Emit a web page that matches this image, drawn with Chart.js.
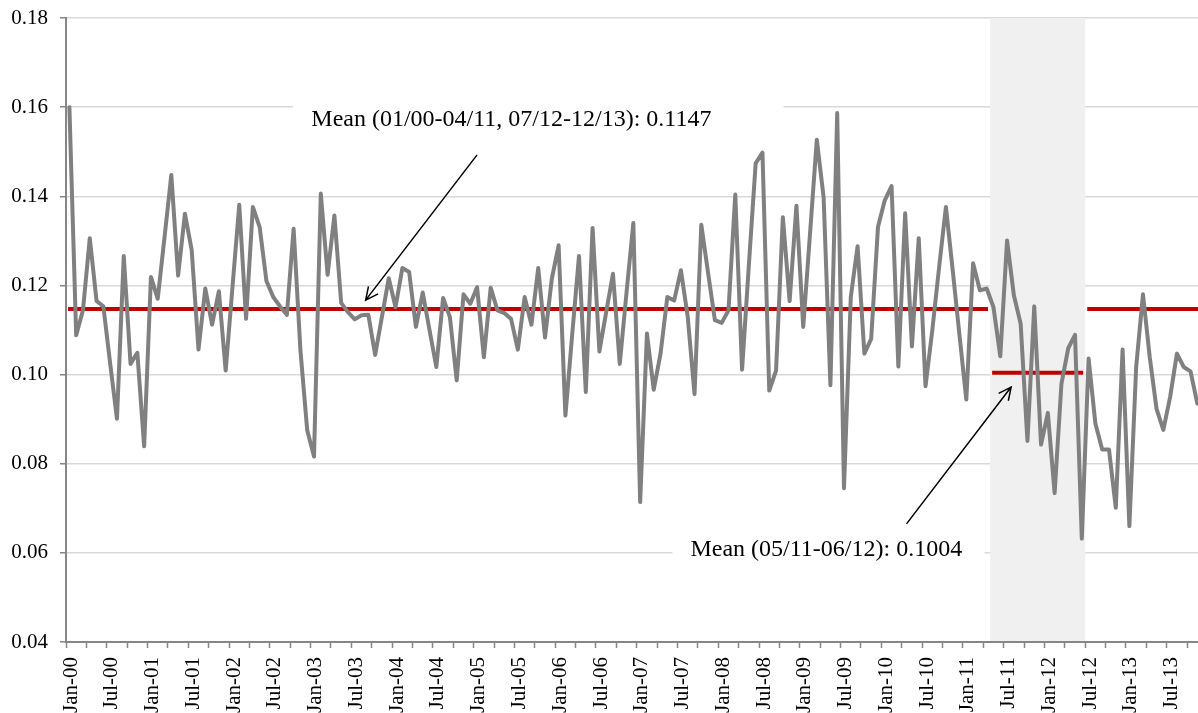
<!DOCTYPE html>
<html>
<head>
<meta charset="utf-8">
<script src="https://cdn.jsdelivr.net/npm/chart.js@4.4.0/dist/chart.umd.min.js"></script>
<style>
  html, body { margin: 0; padding: 0; background: #fff; }
  #wrap { width: 1198px; height: 713px; position: relative; overflow: hidden; }
</style>
</head>
<body>
<div id="wrap"><canvas id="rateChart"></canvas></div>
<script>
const monthNames = ["Jan", "Feb", "Mar", "Apr", "May", "Jun", "Jul", "Aug", "Sep", "Oct", "Nov", "Dec"];
const yearCodes = ["00", "01", "02", "03", "04", "05", "06", "07", "08", "09", "10", "11", "12", "13"];

// monthly values, one array per year
const y2000 = [0.160, 0.1088, 0.1145, 0.1306, 0.1165, 0.1153, 0.1025, 0.0901, 0.1266, 0.1024, 0.1049, 0.0839];
const y2001 = [0.1219, 0.117, 0.1308, 0.1448, 0.1222, 0.1361, 0.1279, 0.1056, 0.1193, 0.1112, 0.1187, 0.1009];
const y2002 = [0.1196, 0.1381, 0.1125, 0.1376, 0.1331, 0.121, 0.1174, 0.1153, 0.1134, 0.1327, 0.1055, 0.0875];
const y2003 = [0.0816, 0.1406, 0.1224, 0.1357, 0.1161, 0.114, 0.1124, 0.1133, 0.1134, 0.1044, 0.113, 0.1216];
const y2004 = [0.1151, 0.1239, 0.123, 0.1107, 0.1184, 0.110, 0.1017, 0.1172, 0.1129, 0.0987, 0.118, 0.1159];
const y2005 = [0.1196, 0.1039, 0.1195, 0.1144, 0.1138, 0.1125, 0.1056, 0.1174, 0.1112, 0.1239, 0.1083, 0.1215];
const y2006 = [0.129, 0.0908, 0.109, 0.1266, 0.0961, 0.1329, 0.1052, 0.114, 0.1226, 0.1024, 0.1185, 0.134];
const y2007 = [0.0714, 0.1092, 0.0966, 0.1047, 0.1174, 0.1166, 0.1234, 0.113, 0.0956, 0.1336, 0.1228, 0.1122];
const y2008 = [0.1116, 0.1144, 0.1404, 0.1011, 0.1246, 0.1474, 0.1498, 0.0964, 0.1009, 0.1353, 0.1165, 0.1379];
const y2009 = [0.1107, 0.1316, 0.1527, 0.1398, 0.0976, 0.1587, 0.0745, 0.1174, 0.1288, 0.1047, 0.108, 0.1331];
const y2010 = [0.1391, 0.1423, 0.1018, 0.1362, 0.1063, 0.1306, 0.0974, 0.110, 0.1241, 0.1376, 0.1234, 0.1088];
const y2011 = [0.0944, 0.125, 0.1189, 0.1193, 0.1151, 0.1041, 0.1301, 0.1178, 0.1114, 0.0851, 0.1153, 0.0843];
const y2012 = [0.0914, 0.0734, 0.0979, 0.1059, 0.1089, 0.0632, 0.1036, 0.089, 0.0832, 0.0832, 0.0701, 0.1056];
const y2013 = [0.066, 0.1017, 0.118, 0.1039, 0.0923, 0.0876, 0.095, 0.1047, 0.1017, 0.1007, 0.0935];

// mean levels per period (month indexes, Jan-00 = 0)
const meanPeriods = [
  { start: 0, end: 135, value: 0.1147 },
  { start: 136, end: 149, value: 0.1004 },
  { start: 150, end: 167, value: 0.1147 },
];
const shadedPeriod = { start: 136, end: 149 };

const yMin = 0.04, yMax = 0.18, yStep = 0.02;

const notes = [
  { text: "Mean (01/00-04/11, 07/12-12/13): 0.1147", at: [35.6, 0.1571], boxTo: 105.1, from: [60.0, 0.1493], to: [43.6, 0.1167] },
  { text: "Mean (05/11-06/12): 0.1004", at: [91.4, 0.0606], boxTo: 134.7, from: [123.2, 0.0665], to: [138.6, 0.0972] },
];

const rates = [].concat(y2000, y2001, y2002, y2003, y2004, y2005, y2006,
  y2007, y2008, y2009, y2010, y2011, y2012, y2013);

const monthLabels = [];
yearCodes.forEach((yy) => monthNames.forEach((m) => monthLabels.push(`${m}-${yy}`)));

const serif = "'Liberation Serif', 'Times New Roman', serif";

function drawArrow(ctx, x0, y0, x1, y1) {
  const ang = Math.atan2(y1 - y0, x1 - x0);
  const len = 14, spread = 0.45;
  ctx.beginPath();
  ctx.moveTo(x0, y0);
  ctx.lineTo(x1, y1);
  ctx.moveTo(x1 - len * Math.cos(ang - spread), y1 - len * Math.sin(ang - spread));
  ctx.lineTo(x1, y1);
  ctx.lineTo(x1 - len * Math.cos(ang + spread), y1 - len * Math.sin(ang + spread));
  ctx.stroke();
}

const overlay = {
  id: "overlay",
  beforeDatasetsDraw(chart) {
    const { ctx, chartArea, scales } = chart;
    const x0 = scales.x.getPixelForValue(shadedPeriod.start - 0.5);
    const x1 = scales.x.getPixelForValue(shadedPeriod.end + 0.5);
    ctx.save();
    ctx.fillStyle = "#f0f0f0";
    ctx.fillRect(x0, chartArea.top, x1 - x0, chartArea.bottom - chartArea.top - 1);
    ctx.restore();
  },
  afterDatasetsDraw(chart) {
    const { ctx, scales } = chart;
    ctx.save();
    ctx.font = `24px ${serif}`;
    ctx.textBaseline = "middle";
    notes.forEach((n) => {
      const tx = scales.x.getPixelForValue(n.at[0]);
      const ty = scales.y.getPixelForValue(n.at[1]);
      const bx1 = scales.x.getPixelForValue(n.boxTo);
      ctx.fillStyle = "#fff";
      ctx.fillRect(tx - 18, ty - 22, bx1 - tx + 18, 44);
      ctx.fillStyle = "#000";
      ctx.fillText(n.text, tx, ty);
      ctx.strokeStyle = "#000";
      ctx.lineWidth = 1.5;
      drawArrow(ctx,
        scales.x.getPixelForValue(n.from[0]), scales.y.getPixelForValue(n.from[1]),
        scales.x.getPixelForValue(n.to[0]), scales.y.getPixelForValue(n.to[1]));
    });
    ctx.restore();
  },
};

const meanSets = meanPeriods.map((p) => ({
  data: [{ x: p.start - 0.2, y: p.value }, { x: p.end + 0.2, y: p.value }],
  borderColor: "#c00000",
  borderWidth: 4,
  pointRadius: 0,
  borderCapStyle: "butt",
}));

new Chart(document.getElementById("rateChart"), {
  type: "line",
  data: {
    datasets: [
      {
        data: rates.map((v, i) => ({ x: i, y: v })),
        borderColor: "#808080",
        borderWidth: 4,
        pointRadius: 0,
        tension: 0,
        borderJoinStyle: "round",
        borderCapStyle: "round",
      },
      ...meanSets,
    ],
  },
  options: {
    responsive: true,
    maintainAspectRatio: false,
    animation: false,
    devicePixelRatio: 1,
    layout: { padding: { top: 18, left: 0, right: 0, bottom: 0 } },
    plugins: { legend: { display: false }, tooltip: { enabled: false } },
    scales: {
      x: {
        type: "linear",
        min: -0.5,
        max: 166.1,
        afterBuildTicks: (scale) => {
          const t = [];
          for (let v = -0.5; v <= scale.max; v += 3) t.push({ value: v });
          scale.ticks = t;
        },
        afterFit: (scale) => {
          scale.height = 71;
          scale.paddingLeft = 0;
          scale.paddingRight = 0;
        },
        grid: {
          drawOnChartArea: false,
          drawTicks: true,
          tickLength: 6,
          tickColor: "#868686",
          tickWidth: 1.5,
        },
        border: { color: "#868686", width: 2 },
        ticks: {
          autoSkip: false,
          maxRotation: 90,
          minRotation: 90,
          padding: 9,
          labelOffset: 5,
          color: "#000",
          font: { family: serif, size: 21 },
          callback: (value) => {
            const i = Math.round(value + 0.5);
            return i % 6 === 0 ? monthLabels[i] : "";
          },
        },
      },
      y: {
        min: yMin,
        max: yMax,
        afterFit: (scale) => {
          scale.width = 66;
          scale.paddingTop = 0;
          scale.paddingBottom = 0;
        },
        grid: {
          color: "#d9d9d9",
          lineWidth: 1.5,
          drawTicks: true,
          tickLength: 6,
          tickColor: "#868686",
          tickWidth: 1.5,
        },
        border: { color: "#868686", width: 2 },
        ticks: {
          stepSize: yStep,
          padding: 12,
          color: "#000",
          font: { family: serif, size: 21 },
          callback: (v) => v.toFixed(2),
        },
      },
    },
  },
  plugins: [overlay],
});
</script>
</body>
</html>
